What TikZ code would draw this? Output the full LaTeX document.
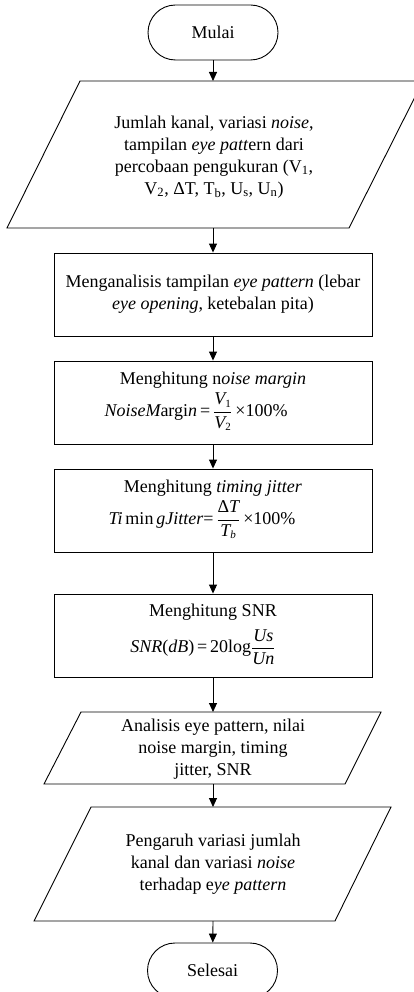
\documentclass[tikz,border=0pt]{standalone}
\usepackage{fontspec}
\setmainfont{Liberation Serif}
\usetikzlibrary{arrows.meta}
\newcommand{\tx}[1]{\textrm{#1}}
\newcommand{\ti}[1]{\textit{#1}}
\newcommand{\sbx}[1]{\hbox{\fontsize{11}{11}\selectfont #1}}
\tikzset{
  line/.style={draw=black, line width=0.9pt},
  arr/.style={line, -{Triangle[length=9pt,width=8pt]}},
  txt/.style={font=\fontsize{18}{22}\selectfont, align=center, inner sep=0pt},
  procbox/.style={line, txt, minimum width=318pt, minimum height=83pt},
  term/.style={line, txt, minimum width=130pt, minimum height=55pt, rounded corners=27.5pt},
}
\begin{document}
\begin{tikzpicture}[x=1pt,y=-1pt]
\clip (0,0) rectangle (414,992);
\fill[white] (0,0) rectangle (414,992);

% Start
\node[term] (mulai) at (213,32.5) {Mulai};

% Parallelogram 1
\draw[line] (80,81) -- (423,81) -- (349,228) -- (7,228) -- cycle;
\coordinate (p1t) at (213,81);
\coordinate (p1b) at (213,228);
\node[txt] (p1) at (214,157) {Jumlah kanal, variasi \textit{noise},\\
tampilan \textit{eye patt}ern dari\\
percobaan pengukuran (V\textsubscript{1},\\
V\textsubscript{2}, ΔT, T\textsubscript{b}, U\textsubscript{s}, U\textsubscript{n})};

% Box 1
\node[procbox] (b1) at (213,294.5) {Menganalisis tampilan \textit{eye pattern} (lebar\\
\textit{eye opening}, ketebalan pita)};

% Box 2
\node[procbox] (b2) at (213,402.5) {};
\node[txt] (b2t) at (213,380) {Menghitung n\textit{oise margin}};
\node[txt] (b2f) at (196,412) {$\displaystyle \ti{NoiseM}\tx{argi}\ti{n}\,\tx{=}\,\frac{\ti{V}_{\sbx{1}}}{\ti{V}_{\sbx{2}}}\,\tx{×}\tx{100\%}$};

% Box 3
\node[procbox] (b3) at (213,510.5) {};
\node[txt] (b3t) at (213,488) {Menghitung \textit{timing jitter}};
\node[txt] (b3f) at (202,520) {$\displaystyle \ti{Ti}\,\tx{min}\,\ti{gJitter}\tx{=}\,\frac{\tx{Δ}\ti{T}}{\ti{T}_{\sbx{\itshape b}}}\,\tx{×}\tx{100\%}$};

% Box 4
\node[procbox] (b4) at (213,635.5) {};
\node[txt] (b4t) at (213,612) {Menghitung SNR};
\node[txt] (b4f) at (203,647) {$\displaystyle \ti{SNR}\tx{(}\ti{dB}\tx{)}\,\tx{=}\,\tx{20log}\frac{\ti{Us}}{\ti{Un}}$};

% Parallelogram 2
\draw[line] (81,712) -- (381,712) -- (345,784) -- (44,784) -- cycle;
\coordinate (p2t) at (213,712);
\coordinate (p2b) at (213,784);
\node[txt] (p2) at (213,749) {Analisis eye pattern, nilai\\
noise margin, timing\\
jitter, SNR};

% Parallelogram 3
\draw[line] (91,807) -- (391,807) -- (335,921) -- (34,921) -- cycle;
\coordinate (p3t) at (213,807);
\coordinate (p3b) at (213,921);
\node[txt] (p3) at (213,864.5) {Pengaruh variasi jumlah\\
kanal dan variasi \textit{noise}\\
terhadap e\textit{ye pattern}};

% End
\node[term] (selesai) at (212.5,970.5) {Selesai};

% Connectors
\draw[arr] (mulai) -- (p1t);
\draw[arr] (p1b) -- (b1);
\draw[arr] (b1) -- (b2);
\draw[arr] (b2) -- (b3);
\draw[arr] (b3) -- (b4);
\draw[arr] (b4) -- (p2t);
\draw[arr] (p2b) -- (p3t);
\draw[arr] (p3b) -- (selesai);
\end{tikzpicture}
\end{document}
